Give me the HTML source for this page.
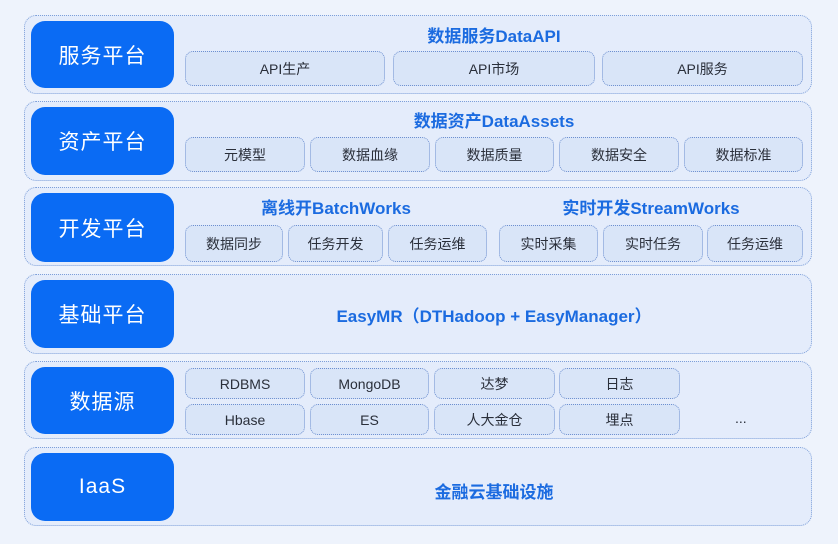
<!DOCTYPE html>
<html><head><meta charset="utf-8"><style>
body{margin:0;width:838px;height:544px;background:#eef3fc;position:relative;overflow:hidden;font-family:"Liberation Sans","Noto Sans CJK SC",sans-serif}
.o{position:absolute;left:24px;width:788px;border:1px dotted #7d9fd9;border-radius:12px;background:#e4ecfb;box-sizing:border-box}
.l{position:absolute;left:31px;width:143px;background:#0a6bf4;border-radius:14px;color:#fff;font-size:21px;display:flex;align-items:center;justify-content:center;letter-spacing:1px}
.b{position:absolute;border:1px dotted #6d8fd0;border-radius:8px;background:#d9e5f8;box-sizing:border-box;display:flex;align-items:center;justify-content:center;font-size:14px;color:#2a2f3a}
.t{position:absolute;color:#1b6be0;font-size:17px;font-weight:bold;text-align:center}
</style></head><body>
<div class="o" style="top:15px;height:79px"></div>
<div class="o" style="top:101px;height:80px"></div>
<div class="o" style="top:187px;height:79px"></div>
<div class="o" style="top:274px;height:80px"></div>
<div class="o" style="top:361px;height:78px"></div>
<div class="o" style="top:447px;height:79px"></div>

<div class="l" style="top:21px;height:67px">服务平台</div>
<div class="l" style="top:107px;height:68px">资产平台</div>
<div class="l" style="top:193px;height:69px">开发平台</div>
<div class="l" style="top:280px;height:68px">基础平台</div>
<div class="l" style="top:367px;height:67px">数据源</div>
<div class="l" style="top:453px;height:68px">IaaS</div>

<div class="t" style="left:185px;width:618px;top:22px">数据服务DataAPI</div>
<div class="b" style="left:185px;top:51px;width:200px;height:35px">API生产</div>
<div class="b" style="left:393px;top:51px;width:202px;height:35px">API市场</div>
<div class="b" style="left:602px;top:51px;width:201px;height:35px">API服务</div>

<div class="t" style="left:185px;width:618px;top:107px">数据资产DataAssets</div>
<div class="b" style="left:185px;top:137px;width:120px;height:35px">元模型</div>
<div class="b" style="left:310px;top:137px;width:120px;height:35px">数据血缘</div>
<div class="b" style="left:435px;top:137px;width:119px;height:35px">数据质量</div>
<div class="b" style="left:559px;top:137px;width:120px;height:35px">数据安全</div>
<div class="b" style="left:684px;top:137px;width:119px;height:35px">数据标准</div>

<div class="t" style="left:185px;width:302px;top:194px">离线开BatchWorks</div>
<div class="t" style="left:499px;width:304px;top:194px">实时开发StreamWorks</div>
<div class="b" style="left:185px;top:225px;width:98px;height:37px">数据同步</div>
<div class="b" style="left:288px;top:225px;width:95px;height:37px">任务开发</div>
<div class="b" style="left:388px;top:225px;width:99px;height:37px">任务运维</div>
<div class="b" style="left:499px;top:225px;width:99px;height:37px">实时采集</div>
<div class="b" style="left:603px;top:225px;width:100px;height:37px">实时任务</div>
<div class="b" style="left:707px;top:225px;width:96px;height:37px">任务运维</div>

<div class="t" style="left:185px;width:618px;top:302px">EasyMR（DTHadoop + EasyManager）</div>

<div class="b" style="left:185px;top:368px;width:120px;height:31px">RDBMS</div>
<div class="b" style="left:310px;top:368px;width:119px;height:31px">MongoDB</div>
<div class="b" style="left:434px;top:368px;width:121px;height:31px">达梦</div>
<div class="b" style="left:559px;top:368px;width:121px;height:31px">日志</div>
<div class="b" style="left:185px;top:404px;width:120px;height:31px">Hbase</div>
<div class="b" style="left:310px;top:404px;width:119px;height:31px">ES</div>
<div class="b" style="left:434px;top:404px;width:121px;height:31px">人大金仓</div>
<div class="b" style="left:559px;top:404px;width:121px;height:31px">埋点</div>
<div style="position:absolute;left:735px;top:410px;font-size:14px;color:#2a2f3a">...</div>

<div class="t" style="left:185px;width:618px;top:478px">金融云基础设施</div>
</body></html>
